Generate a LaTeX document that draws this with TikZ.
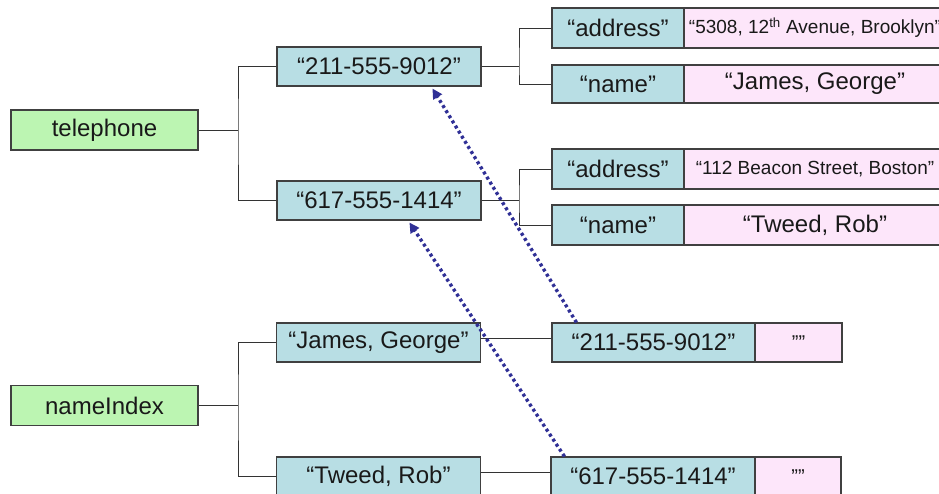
\documentclass[tikz,border=0pt]{standalone}
\usepackage{fontspec}
\setmainfont{Liberation Sans}
\usetikzlibrary{arrows.meta}
\definecolor{teal}{RGB}{184,222,228}
\definecolor{grn}{RGB}{188,245,178}
\definecolor{pnk}{RGB}{253,230,250}
\definecolor{dotblue}{RGB}{48,48,150}
\begin{document}
\begin{tikzpicture}[x=1pt,y=-1pt,
  box/.style={draw=black!75,line width=1.1pt,inner sep=0pt,text=black!90,font=\fontsize{24}{28}\selectfont},
  tbox/.style={box,fill=teal,minimum width=204pt,minimum height=39pt},
  gbox/.style={box,fill=grn,minimum width=187pt,minimum height=40pt},
  kbox/.style={box,fill=teal,minimum width=132pt,minimum height=40pt},
  vbox/.style={box,fill=pnk,minimum width=262pt,minimum height=40pt},
  ebox/.style={box,fill=pnk,minimum width=87pt,minimum height=39pt},
  tree/.style={draw=black!80,line width=0.9pt},
  ref/.style={draw=dotblue,line width=3.4pt,dash pattern=on 3pt off 3pt,-{Triangle[length=10pt,width=10pt]}}]
\useasboundingbox (0,0) rectangle (939,493);
\clip (0,0) rectangle (939,493);
% left column
\node[gbox] (tel) at (104.5,130) {telephone};
\node[gbox] (ni) at (104.5,405.5) {nameIndex};
% middle column
\node[tbox] (p1) at (379,66.5) {“211-555-9012”};
\node[tbox] (p2) at (379,200.5) {“617-555-1414”};
\node[tbox] (jg) at (378.5,342.5) {“James, George”};
\node[tbox] (tr) at (378.5,476.5) {“Tweed, Rob”};
% top right
\node[kbox] (a1k) at (618,28) {“address”};
\node[vbox] (a1v) at (815,28) {\fontsize{19}{22}\selectfont“5308, 12\textsuperscript{th} Avenue, Brooklyn”};
\node[kbox,minimum height=38pt] (n1k) at (618,84) {“name”};
\node[vbox,minimum height=38pt] (n1v) at (815,84) {“James, George”};
\node[kbox] (a2k) at (618,169) {“address”};
\node[vbox] (a2v) at (815,169) {\fontsize{19}{22}\selectfont“112 Beacon Street, Boston”};
\node[kbox] (n2k) at (618,225) {“name”};
\node[vbox] (n2v) at (815,225) {“Tweed, Rob”};
% bottom right
\node[tbox,minimum width=203pt] (k1) at (653.5,342.5) {“211-555-9012”};
\node[ebox] (v1) at (798.5,342.5) {\fontsize{20}{22}\selectfont””};
\node[tbox,minimum width=204pt] (k2) at (653,476.5) {“617-555-1414”};
\node[ebox,minimum width=86pt] (v2) at (798,476.5) {\fontsize{20}{22}\selectfont””};
% tree connectors
\coordinate (tj) at (238,130);
\coordinate (nj) at (238,405.5);
\coordinate (j1) at (519,66.5);
\coordinate (j2) at (519,200.5);
\draw[tree] (tel.east) -- (tj);
\draw[tree] (p1.west) -| (tj) |- (p2.west);
\draw[tree] (ni.east) -- (nj);
\draw[tree] (jg.west) -| (nj) |- (tr.west);
\draw[tree] (p1.east) -- (j1);
\draw[tree] (a1k.west) -| (j1) |- (n1k.west);
\draw[tree] (p2.east) -- (j2);
\draw[tree] (a2k.west) -| (j2) |- (n2k.west);
\draw[tree] ([yshift=4pt]jg.east) -- ([yshift=4pt]k1.west);
\draw[tree] ([yshift=4pt]tr.east) -- ([yshift=4pt]k2.west);
% references
\draw[ref] ([xshift=25pt]k1.north west) -- ([xshift=156pt,yshift=-2pt]p1.south west);
\draw[ref] ([xshift=14pt]k2.north west) -- ([xshift=133pt,yshift=-2pt]p2.south west);
\end{tikzpicture}
\end{document}
